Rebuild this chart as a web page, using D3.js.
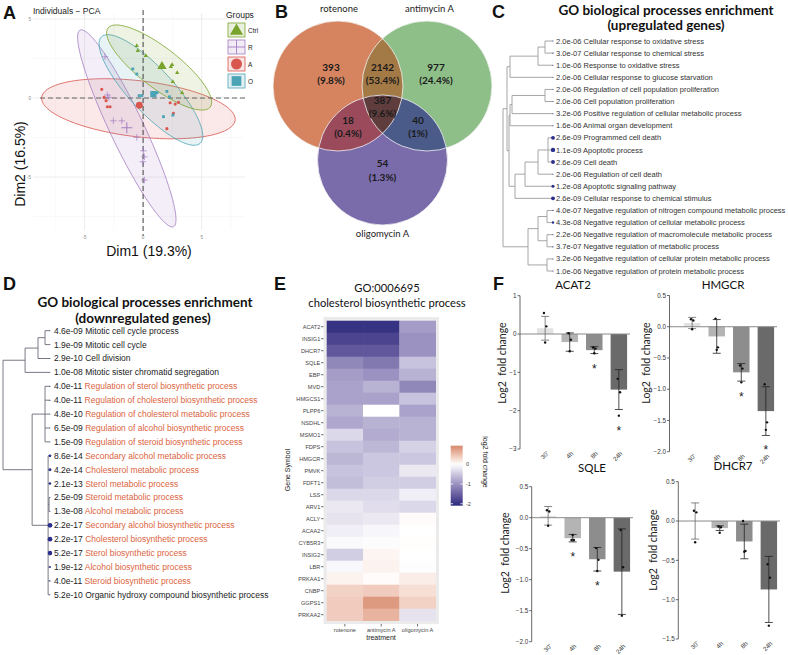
<!DOCTYPE html>
<html><head><meta charset="utf-8">
<script src="https://cdn.jsdelivr.net/npm/d3@7"></script>
<style>
body{margin:0;background:#fff}
svg{display:block}
text{font-family:"Liberation Sans",Arial,sans-serif}
.lato{font-family:Lato,"Open Sans",sans-serif}
</style>
</head><body>
<svg id="c" width="788" height="655"></svg>
<script>
// ================= DATA =================
// Panel A - PCA individuals (Dim1, Dim2)
const pcaGroups = ["Ctrl", "R", "A", "O"];
const ctrlDim1 = [-0.54, -0.45, 0.23, 2.48, 2.37, 2.91, 2.54, 3.33];
const ctrlDim2 = [3.31, 2.99, 2.68, 2.11, 1.98, 1.60, 1.03, 0.34];
const rDim1 = [-3.25, -3.05, -2.91, -2.54, -1.82, -0.54, 0.03, 0.11, -0.03, 0.11];
const rDim2 = [2.61, 0.19, 0.04, -1.44, -1.44, -2.49, -3.34, -3.72, -4.03, -5.19];
const aDim1 = [-3.53, -3.33, -3.16, -3.05, -2.82, 2.31, 3.02, 2.74, 2.59, 2.03];
const aDim2 = [0.55, 0.04, -0.17, -0.55, -0.55, -0.30, -0.27, -0.38, -0.97, -1.94];
const oDim1 = [-0.88, -0.54, -0.34, -0.11, 1.20, 2.03, 2.25, 1.74, 2.54];
const oDim2 = [1.84, 1.52, 0.15, 0.15, 0.34, 0.42, 0.08, -1.18, -1.08];
// concentration ellipses: centre, semi-axis vectors (data units)
const ellCtrl = [1.37, 1.93, 4.36, -2.50, -1.05, -1.00];
const ellR    = [-1.39, -1.92, 3.99, -6.22, -1.31, -0.46];
const ellA    = [-0.40, -0.68, 8.26, -0.72, -0.28, -1.76];
const ellO    = [0.67, 0.51, 4.21, -3.37, -1.38, -0.94];
const pcaXTicks = [-5, 0, 5];
const pcaYTicks = [5, 0, -5];

// Panel B - Venn
const vennSets = ["rotenone", "antimycin A", "oligomycin A"];
const vennCounts = [393, 2142, 977, 387, 18, 40, 54];
const vennPct = ["9.8%", "53.4%", "24.4%", "9.6%", "0.4%", "1%", "1.3%"];

// Panel C - GO upregulated
const cP = ["2.0e-06","3.0e-07","1.0e-06","2.0e-06","2.0e-06","2.0e-06","3.2e-06","1.6e-06","2.6e-09","1.1e-09","2.6e-09","2.0e-06","1.2e-08","2.6e-09","4.0e-07","4.3e-08","2.2e-06","3.7e-07","3.2e-06","1.0e-06"];
const cTerms = ["Cellular response to oxidative stress","Cellular response to chemical stress","Response to oxidative stress","Cellular response to glucose starvation","Regulation of cell population proliferation","Cell population proliferation","Positive regulation of cellular metabolic process","Animal organ development","Programmed cell death","Apoptotic process","Cell death","Regulation of cell death","Apoptotic signaling pathway","Cellular response to chemical stimulus","Negative regulation of nitrogen compound metabolic process","Negative regulation of cellular metabolic process","Negative regulation of macromolecule metabolic process","Negative regulation of metabolic process","Negative regulation of cellular protein metabolic process","Negative regulation of protein metabolic process"];
const cTree = {h:1.0, c:[
  {h:0.92, c:[
    {h:0.86, c:[{h:0.30, c:[{h:0.16, c:[0,1]}, 2]}, 3]},
    {h:0.88, c:[
      {h:0.86, c:[{h:0.82, c:[{h:0.16, c:[4,5]}, 6]}, 7]},
      {h:0.76, c:[{h:0.56, c:[{h:0.30, c:[{h:0.10, c:[8,9,10]}, 11]}, 12]}, 13]}
    ]}
  ]},
  {h:0.50, c:[{h:0.30, c:[{h:0.12, c:[14,15]}, {h:0.12, c:[16,17]}]}, {h:0.12, c:[18,19]}]}
]};

// Panel D - GO downregulated
const dP = ["4.6e-09","1.9e-09","2.9e-10","1.0e-08","4.0e-11","4.0e-11","4.8e-10","6.5e-09","1.5e-09","8.6e-14","4.2e-14","2.1e-13","2.5e-09","1.3e-08","2.2e-17","2.2e-17","5.2e-17","1.9e-12","4.0e-11","5.2e-10"];
const dTerms = ["Mitotic cell cycle process","Mitotic cell cycle","Cell division","Mitotic sister chromatid segregation","Regulation of sterol biosynthetic process","Regulation of cholesterol biosynthetic process","Regulation of cholesterol metabolic process","Regulation of alcohol biosynthetic process","Regulation of steroid biosynthetic process","Secondary alcohol metabolic process","Cholesterol metabolic process","Sterol metabolic process","Steroid metabolic process","Alcohol metabolic process","Secondary alcohol biosynthetic process","Cholesterol biosynthetic process","Sterol biosynthetic process","Alcohol biosynthetic process","Steroid biosynthetic process","Organic hydroxy compound biosynthetic process"];
const dSterol = [0,0,0,0,1,1,1,1,1,1,1,1,1,1,1,1,1,1,1,0];
const dTree = {h:1.0, c:[
  {h:0.53, c:[{h:0.255, c:[{h:0.106, c:[0,1]}, 2]}, 3]},
  {h:0.38, c:[
    {h:0.106, c:[4,5,6,7,8]},
    {h:0.04, c:[9,10,11,{h:0.02, c:[12,13]},14,15,16,17,18,19]}
  ]}
]};

// Panel E - heatmap (log2 fold change)
const hmTreatments = ["rotenone", "antimycin A", "oligomycin A"];
const hmGenes = ["ACAT2","INSIG1","DHCR7","SQLE","EBP","MVD","HMGCS1","PLPP6","NSDHL","MSMO1","FDPS","HMGCR","PMVK","FDFT1","LSS","ARV1","ACLY","ACAA2","CYB5R3","INSIG2","LBR","PRKAA1","CNBP","GGPS1","PRKAA2"];
const hmRotenone   = [-2.0,-1.8,-1.6,-1.1,-0.9,-0.85,-0.85,-0.7,-0.8,-0.35,-0.55,-0.65,-0.55,-0.6,-0.35,-0.2,-0.25,-0.15,-0.05,-0.45,-0.07,0.1,0.35,0.4,0.4];
const hmAntimycin  = [-2.0,-1.8,-1.6,-1.25,-1.0,-0.7,-0.85,0.0,-0.7,-0.75,-0.65,-0.5,-0.5,-0.45,-0.35,-0.3,-0.2,-0.08,-0.03,0.08,0.1,0.03,0.4,0.8,0.6];
const hmOligomycin = [-0.9,-1.0,-1.0,-0.55,-0.7,-1.1,-0.55,-0.85,-0.7,-0.7,-0.4,-0.5,-0.2,-0.45,-0.15,-0.35,0.03,0.0,0.01,0.0,-0.02,0.15,0.25,0.35,-0.25];
const hmLegendTicks = [0, -1, -2];

// Panel F - qPCR bars
const fTimes = ["30'", "4h", "8h", "24h"];
const acat2Mean = [0.15, -0.21, -0.42, -1.45];
const acat2SD   = [0.31, 0.24, 0.09, 0.52];
const acat2Pts  = [[0.55, 0.20, -0.22], [0.02, -0.15, -0.45], [-0.35, -0.38, -0.50], [-1.17, -1.52, -2.13]];
const acat2Sig  = [0, 0, 1, 1];
const hmgcrMean = [0.06, -0.155, -0.73, -1.35];
const hmgcrSD   = [0.09, 0.27, 0.14, 0.39];
const hmgcrPts  = [[0.12, 0.10, -0.04], [0.13, -0.33, -0.37], [-0.62, -0.67, -0.89], [-0.92, -1.53, -1.65]];
const hmgcrSig  = [0, 0, 1, 1];
const sqleMean  = [0.03, -0.33, -0.67, -0.87];
const sqleSD    = [0.15, 0.06, 0.19, 0.69];
const sqlePts   = [[0.12, 0.10, -0.13], [-0.36, -0.36, -0.28], [-0.49, -0.68, -0.86], [-0.20, -0.80, -1.58]];
const sqleSig   = [0, 1, 1, 0];
const dhcr7Mean = [0.0, -0.09, -0.26, -0.87];
const dhcr7SD   = [0.23, 0.03, 0.22, 0.42];
const dhcr7Pts  = [[0.13, 0.11, -0.27], [-0.07, -0.08, -0.15], [0.0, -0.38, -0.39], [-0.55, -0.72, -1.33]];
const dhcr7Sig  = [0, 0, 0, 0];

// ================= DRAW =================
const svg = d3.select("#c");
svg.append("rect").attr("width", 788).attr("height", 655).attr("fill", "#fff");

function panelLabel(t, x, y) {
  svg.append("text").attr("x", x).attr("y", y).text(t)
    .attr("font-size", 18).attr("font-weight", "bold").attr("fill", "#111");
}

// ---------- Panel A ----------
(function () {
  const g = svg.append("g");
  const x = d3.scaleLinear().domain([-9.4, 8.7]).range([33, 245]);
  const y = d3.scaleLinear().domain([-8.35, 5.38]).range([230, 13]);
  const col = {Ctrl: "#7aa32b", R: "#a47dc2", A: "#d9564f", O: "#4ba4b6"};
  [-7.5, -2.5, 2.5, 7.5].forEach(v => g.append("line").attr("x1", x(v)).attr("x2", x(v)).attr("y1", 13).attr("y2", 230).attr("stroke", "#f3f3f3").attr("stroke-width", 0.5));
  [2.5, -2.5, -7.5].forEach(v => g.append("line").attr("y1", y(v)).attr("y2", y(v)).attr("x1", 33).attr("x2", 245).attr("stroke", "#f3f3f3").attr("stroke-width", 0.5));
  pcaXTicks.forEach(v => g.append("line").attr("x1", x(v)).attr("x2", x(v)).attr("y1", 13).attr("y2", 230).attr("stroke", "#e6e6e6").attr("stroke-width", 0.7));
  pcaYTicks.forEach(v => g.append("line").attr("y1", y(v)).attr("y2", y(v)).attr("x1", 33).attr("x2", 245).attr("stroke", "#e6e6e6").attr("stroke-width", 0.7));
  const ells = {Ctrl: ellCtrl, R: ellR, A: ellA, O: ellO};
  ["A", "R", "O", "Ctrl"].forEach(k => {
    const e = ells[k];
    const pts = d3.range(0, 101).map(i => {
      const t = i / 100 * 2 * Math.PI;
      return [x(e[0] + Math.cos(t) * e[2] + Math.sin(t) * e[4]), y(e[1] + Math.cos(t) * e[3] + Math.sin(t) * e[5])];
    });
    g.append("path").attr("d", d3.line()(pts) + "Z").attr("fill", col[k]).attr("fill-opacity", 0.13)
      .attr("stroke", col[k]).attr("stroke-width", 0.8);
  });
  g.append("line").attr("x1", x(0)).attr("x2", x(0)).attr("y1", 10).attr("y2", 236).attr("stroke", "#444").attr("stroke-width", 1).attr("stroke-dasharray", "5,3");
  g.append("line").attr("y1", y(0)).attr("y2", y(0)).attr("x1", 40).attr("x2", 246).attr("stroke", "#666").attr("stroke-width", 1).attr("stroke-dasharray", "5,3");
  const sets = {Ctrl: [ctrlDim1, ctrlDim2], R: [rDim1, rDim2], A: [aDim1, aDim2], O: [oDim1, oDim2]};
  function mark(k, px, py, big) {
    if (k === "R") {
      const s = big ? 5.5 : 3.2;
      g.append("path").attr("d", `M${px - s},${py}H${px + s}M${px},${py - s}V${py + s}`).attr("stroke", col[k]).attr("stroke-width", big ? 1 : 0.7);
    } else {
      const type = k === "Ctrl" ? d3.symbolTriangle : k === "A" ? d3.symbolCircle : d3.symbolSquare;
      g.append("path").attr("d", d3.symbol().type(type).size(big ? 38 : 8)()).attr("transform", `translate(${px},${py})`).attr("fill", col[k]);
    }
  }
  pcaGroups.forEach(k => {
    const [d1, d2] = sets[k];
    d1.forEach((v, i) => mark(k, x(v), y(d2[i]), false));
    mark(k, x(d3.mean(d1)), y(d3.mean(d2)), true);
  });
  pcaXTicks.forEach(v => g.append("text").attr("x", x(v)).attr("y", 239).attr("text-anchor", "middle").attr("font-size", 4.5).attr("fill", "#888").text(v));
  pcaYTicks.forEach(v => g.append("text").attr("x", 31).attr("y", y(v) + 1.5).attr("text-anchor", "end").attr("font-size", 4.5).attr("fill", "#888").text(v));
  g.append("text").attr("x", 33).attr("y", 13.5).attr("font-size", 8.5).attr("fill", "#222").text("Individuals \u2212 PCA");
  g.append("text").attr("x", 149).attr("y", 255.5).attr("text-anchor", "middle").attr("font-size", 14).attr("fill", "#111").text("Dim1 (19.3%)");
  g.append("text").attr("transform", "translate(25,164) rotate(-90)").attr("text-anchor", "middle").attr("font-size", 14).attr("fill", "#111").text("Dim2 (16.5%)");
  g.append("text").attr("x", 226).attr("y", 18).attr("font-size", 8.5).attr("fill", "#222").text("Groups");
  pcaGroups.forEach((k, i) => {
    const by = 23 + i * 17, bx = 228;
    g.append("rect").attr("x", bx).attr("y", by).attr("width", 17).attr("height", 14).attr("fill", col[k]).attr("fill-opacity", 0.15).attr("stroke", col[k]).attr("stroke-width", 0.8);
    const cx = bx + 8.5, cy = by + 7;
    if (k === "R") {
      g.append("path").attr("d", `M${bx},${cy}H${bx + 17}M${cx},${by}V${by + 14}`).attr("stroke", col[k]).attr("stroke-width", 0.9);
    } else {
      const type = k === "Ctrl" ? d3.symbolTriangle : k === "A" ? d3.symbolCircle : d3.symbolSquare;
      g.append("path").attr("d", d3.symbol().type(type).size(k === "Ctrl" ? 75 : 95)()).attr("transform", `translate(${cx},${cy + (k === "Ctrl" ? 1 : 0)})`).attr("fill", col[k]);
    }
    g.append("text").attr("x", 248).attr("y", cy + 2.5).attr("font-size", 6.5).attr("fill", "#222").text(k);
  });
  panelLabel("A", 3, 19);
})();

// ---------- Panel B ----------
(function () {
  const g = svg.append("g");
  const r = 65;
  const C = [{x: 338, y: 86, c: "#d5845f"}, {x: 427, y: 86, c: "#8fbf88"}, {x: 382.5, y: 160, c: "#7a6bab"}];
  const defs = svg.append("defs");
  C.forEach((c, i) => defs.append("clipPath").attr("id", "vc" + i).append("circle").attr("cx", c.x).attr("cy", c.y).attr("r", r));
  C.forEach(c => g.append("circle").attr("cx", c.x).attr("cy", c.y).attr("r", r).attr("fill", c.c));
  const ov = [[0, 1, "#a37946"], [0, 2, "#9b4a5b"], [1, 2, "#4a5a89"]];
  ov.forEach(o => g.append("g").attr("clip-path", `url(#vc${o[0]})`).append("circle")
    .attr("cx", C[o[1]].x).attr("cy", C[o[1]].y).attr("r", r).attr("fill", o[2]));
  g.append("g").attr("clip-path", "url(#vc0)").append("g").attr("clip-path", "url(#vc1)").append("circle")
    .attr("cx", C[2].x).attr("cy", C[2].y).attr("r", r).attr("fill", "#5f3d3c");
  C.forEach(c => g.append("circle").attr("cx", c.x).attr("cy", c.y).attr("r", r).attr("fill", "none").attr("stroke", "#f4f4f4").attr("stroke-width", 0.8));
  const pos = [
    [C[0].x - 7, C[0].y - 19], [(C[0].x + C[1].x) / 2, C[0].y - 19], [C[1].x + 9, C[1].y - 19],
    [C[2].x, C[0].y + 14], [C[0].x + 10, C[0].y + 34], [C[1].x - 9, C[1].y + 34], [C[2].x, C[2].y + 3.5]
  ];
  vennCounts.forEach((v, i) => {
    g.append("text").attr("class", "lato").attr("x", pos[i][0]).attr("y", pos[i][1] + 3.5).attr("text-anchor", "middle")
      .attr("font-size", 10).attr("font-weight", "bold").attr("fill", "#1a1a1a").text(v);
    g.append("text").attr("class", "lato").attr("x", pos[i][0]).attr("y", pos[i][1] + 17).attr("text-anchor", "middle")
      .attr("font-size", 10).attr("font-weight", "bold").attr("fill", "#1a1a1a").text("(" + vennPct[i] + ")");
  });
  const lp = [[339, 12], [429.5, 12], [382.5, 237]];
  vennSets.forEach((s, i) => g.append("text").attr("class", "lato").attr("x", lp[i][0]).attr("y", lp[i][1]).attr("text-anchor", "middle")
    .attr("font-size", 9.5).attr("fill", "#222").text(s));
  panelLabel("B", 275, 18);
})();

// ---------- dendrogram helper ----------
function layoutTree(n, rowY) {
  if (typeof n === "number") return {leaf: true, i: n, y: rowY(n)};
  const kids = n.c.map(k => layoutTree(k, rowY));
  return {h: n.h, kids, y: (kids[0].y + kids[kids.length - 1].y) / 2};
}
function drawTree(g, n, xs, leafX, color) {
  if (n.leaf) return;
  const x0 = xs(n.h);
  g.append("line").attr("x1", x0).attr("x2", x0).attr("y1", n.kids[0].y).attr("y2", n.kids[n.kids.length - 1].y).attr("stroke", color).attr("stroke-width", 0.9);
  n.kids.forEach(k => {
    const x1 = k.leaf ? leafX : xs(k.h);
    g.append("line").attr("x1", x0).attr("x2", x1).attr("y1", k.y).attr("y2", k.y).attr("stroke", color).attr("stroke-width", 0.9);
    drawTree(g, k, xs, leafX, color);
  });
}

// ---------- Panel C ----------
(function () {
  const g = svg.append("g");
  const rowY = d3.scaleLinear().domain([0, 19]).range([41, 271]);
  const xs = d3.scaleLinear().domain([0, 1]).range([553, 503]);
  const rs = d3.scaleLinear().domain([6.2, 9]).range([0.5, 2.2]).clamp(true);
  drawTree(g, layoutTree(cTree, rowY), xs, 553, "#9c9c9c");
  cTerms.forEach((t, i) => {
    const lp = -Math.log10(+cP[i]);
    g.append("circle").attr("cx", 553).attr("cy", rowY(i)).attr("r", rs(lp)).attr("fill", "#2b2f8c");
    g.append("text").attr("x", 556).attr("y", rowY(i) + 2.6).attr("font-size", 7.5).attr("fill", "#333").text(cP[i] + " " + t);
  });
  g.append("text").attr("class", "lato").attr("x", 666).attr("y", 14.5).attr("text-anchor", "middle").attr("font-size", 13.5).attr("font-weight", "bold").attr("fill", "#111").text("GO biological processes enrichment");
  g.append("text").attr("class", "lato").attr("x", 666).attr("y", 30).attr("text-anchor", "middle").attr("font-size", 13.5).attr("font-weight", "bold").attr("fill", "#111").text("(upregulated genes)");
  panelLabel("C", 492, 18);
})();

// ---------- Panel D ----------
(function () {
  const g = svg.append("g");
  const rowY = d3.scaleLinear().domain([0, 19]).range([330.7, 594.8]);
  const xs = d3.scaleLinear().domain([0, 1]).range([50, 3]);
  const rs = d3.scaleLinear().domain([10, 16.7]).range([0.45, 2.4]).clamp(true);
  drawTree(g, layoutTree(dTree, rowY), xs, 50, "#6b6b78");
  dTerms.forEach((t, i) => {
    const lp = -Math.log10(+dP[i]);
    g.append("circle").attr("cx", 50).attr("cy", rowY(i)).attr("r", rs(lp)).attr("fill", "#2b2f8c");
    const tx = g.append("text").attr("x", 54).attr("y", rowY(i) + 2.9).attr("font-size", 8.5);
    tx.append("tspan").attr("fill", "#222").text(dP[i] + " ");
    tx.append("tspan").attr("fill", dSterol[i] ? "#db6440" : "#222").text(t);
  });
  g.append("text").attr("class", "lato").attr("x", 145).attr("y", 307).attr("text-anchor", "middle").attr("font-size", 13.5).attr("font-weight", "bold").attr("fill", "#111").text("GO biological processes enrichment");
  g.append("text").attr("class", "lato").attr("x", 143).attr("y", 322.5).attr("text-anchor", "middle").attr("font-size", 13.5).attr("font-weight", "bold").attr("fill", "#111").text("(downregulated genes)");
  panelLabel("D", 3, 290);
})();

// ---------- Panel E ----------
(function () {
  const g = svg.append("g");
  const hx = d3.scaleBand().domain(hmTreatments).range([326.7, 435.7]);
  const hy = d3.scaleBand().domain(hmGenes).range([320.7, 620.7]);
  const color = d3.scaleLinear().domain([-2.1, 0, 0.95]).range(["#2a2a7d", "#ffffff", "#d5886a"]).interpolate(d3.interpolateLab).clamp(true);
  g.append("rect").attr("x", 323.5).attr("y", 317).attr("width", 115.5).attr("height", 307).attr("fill", "#ebebeb");
  const cols = [hmRotenone, hmAntimycin, hmOligomycin];
  hmTreatments.forEach((t, j) => hmGenes.forEach((gn, i) => {
    g.append("rect").attr("x", hx(t)).attr("y", hy(gn)).attr("width", hx.bandwidth() + 0.3).attr("height", hy.bandwidth() + 0.3).attr("fill", color(cols[j][i]));
  }));
  hmGenes.forEach(gn => {
    const yy = hy(gn) + hy.bandwidth() / 2;
    g.append("line").attr("x1", 321).attr("x2", 323.5).attr("y1", yy).attr("y2", yy).attr("stroke", "#333").attr("stroke-width", 0.7);
    g.append("text").attr("x", 320.3).attr("y", yy + 2).attr("text-anchor", "end").attr("font-size", 5.6).attr("fill", "#444").text(gn);
  });
  hmTreatments.forEach(t => {
    const xx = hx(t) + hx.bandwidth() / 2;
    g.append("line").attr("x1", xx).attr("x2", xx).attr("y1", 624).attr("y2", 626.5).attr("stroke", "#333").attr("stroke-width", 0.7);
    g.append("text").attr("x", xx).attr("y", 632).attr("text-anchor", "middle").attr("font-size", 5.6).attr("fill", "#444").text(t);
  });
  g.append("text").attr("x", 381).attr("y", 639.5).attr("text-anchor", "middle").attr("font-size", 7).attr("fill", "#222").text("treatment");
  g.append("text").attr("transform", "translate(290,470) rotate(-90)").attr("text-anchor", "middle").attr("font-size", 7).attr("fill", "#222").text("Gene Symbol");
  const ly = d3.scaleLinear().domain([0.95, -2.1]).range([445.7, 505.7]);
  const grad = svg.append("defs").append("linearGradient").attr("id", "hmg").attr("x1", 0).attr("x2", 0).attr("y1", 0).attr("y2", 1);
  d3.range(0, 21).forEach(i => {
    const v = 0.95 - i / 20 * 3.05;
    grad.append("stop").attr("offset", i / 20).attr("stop-color", color(v));
  });
  g.append("rect").attr("x", 450.7).attr("y", ly(0.95)).attr("width", 12).attr("height", ly(-2.1) - ly(0.95)).attr("fill", "url(#hmg)");
  hmLegendTicks.forEach(v => {
    g.append("line").attr("x1", 450.7).attr("x2", 453).attr("y1", ly(v)).attr("y2", ly(v)).attr("stroke", "#fff").attr("stroke-width", 0.8);
    g.append("line").attr("x1", 460.4).attr("x2", 462.7).attr("y1", ly(v)).attr("y2", ly(v)).attr("stroke", "#fff").attr("stroke-width", 0.8);
    g.append("text").attr("x", 466).attr("y", ly(v) + 2).attr("font-size", 5.6).attr("fill", "#444").text(v);
  });
  g.append("text").attr("transform", "translate(483,462) rotate(90)").attr("text-anchor", "middle").attr("font-size", 7).attr("fill", "#222").text("log2 fold change");
  g.append("text").attr("class", "lato").attr("x", 387).attr("y", 292).attr("text-anchor", "middle").attr("font-size", 11.2).attr("fill", "#111").text("GO:0006695");
  g.append("text").attr("class", "lato").attr("x", 387).attr("y", 307).attr("text-anchor", "middle").attr("font-size", 11.2).attr("fill", "#111").text("cholesterol biosynthetic process");
  panelLabel("E", 274, 290);
})();

// ---------- Panel F ----------
function barPanel(cfg, mean, sd, pts, sig) {
  const g = svg.append("g");
  const y = d3.scaleLinear().domain(cfg.dom).range(cfg.yr);
  const x = d3.scaleBand().domain(fTimes).range(cfg.xr).paddingInner(0.33).paddingOuter(0.2);
  const fills = ["#e2e2e2", "#b4b4b4", "#8d8d8d", "#6a6a6a"];
  fTimes.forEach((t, i) => {
    const m = mean[i];
    g.append("rect").attr("x", x(t)).attr("width", x.bandwidth()).attr("y", y(Math.max(0, m))).attr("height", Math.abs(y(m) - y(0))).attr("fill", fills[i]);
  });
  g.append("line").attr("x1", cfg.ax).attr("x2", cfg.xr[1] - 2).attr("y1", y(0)).attr("y2", y(0)).attr("stroke", "#8a8a8a").attr("stroke-width", 1);
  fTimes.forEach((t, i) => {
    const cx = x(t) + x.bandwidth() / 2, m = mean[i], s = sd[i];
    const ec = i === 0 ? "#666" : "#222";
    g.append("line").attr("x1", cx).attr("x2", cx).attr("y1", y(m - s)).attr("y2", y(m + s)).attr("stroke", ec).attr("stroke-width", 0.8);
    [m - s, m + s].forEach(v => g.append("line").attr("x1", cx - 4).attr("x2", cx + 4).attr("y1", y(v)).attr("y2", y(v)).attr("stroke", ec).attr("stroke-width", 0.8));
    pts[i].forEach((v, k) => g.append("circle").attr("cx", cx + [-1.2, 1.2, 0][k]).attr("cy", y(v)).attr("r", 1.2).attr("fill", "#111"));
    if (sig[i]) {
      const lo = Math.min(m - s, d3.min(pts[i]));
      g.append("text").attr("x", cx).attr("y", y(lo) + 19).attr("text-anchor", "middle").attr("font-size", 12).attr("fill", "#222").text("*");
    }
    g.append("text").attr("transform", `translate(${cx + 4},${cfg.yr[0] + 5}) rotate(-45)`).attr("text-anchor", "end")
      .attr("font-size", 6.3).attr("fill", "#333").text(t);
  });
  g.append("line").attr("x1", cfg.ax).attr("x2", cfg.ax).attr("y1", cfg.yr[1]).attr("y2", cfg.yr[0]).attr("stroke", "#444").attr("stroke-width", 0.8);
  cfg.ticks.forEach(v => {
    g.append("line").attr("x1", cfg.ax - 2.5).attr("x2", cfg.ax).attr("y1", y(v)).attr("y2", y(v)).attr("stroke", "#444").attr("stroke-width", 0.8);
    g.append("text").attr("x", cfg.ax - 3.5).attr("y", y(v) + 2.2).attr("text-anchor", "end").attr("font-size", 6.3).attr("fill", "#333").text(cfg.fmt(v));
  });
  g.append("text").attr("class", "lato").attr("transform", `translate(${cfg.lx},${cfg.ly}) rotate(-90)`).attr("text-anchor", "middle")
    .attr("font-size", 10.5).attr("fill", "#222").attr("xml:space", "preserve").text("Log2  fold change");
  g.append("text").attr("class", "lato").attr("x", cfg.tx).attr("y", cfg.ty).attr("text-anchor", "middle").attr("font-size", 11.5).attr("fill", "#111").text(cfg.name);
}
const f1 = d3.format(".1f");
barPanel({name: "ACAT2", dom: [-3, 1], yr: [449, 295.7], xr: [532, 632], ax: 520, ticks: [1, 0, -1, -2, -3], fmt: d3.format("d"), lx: 506, ly: 363, tx: 573, ty: 289},
  acat2Mean, acat2SD, acat2Pts, acat2Sig);
barPanel({name: "HMGCR", dom: [-2, 0.5], yr: [451.7, 295.5], xr: [679, 779], ax: 669.5, ticks: [0.5, 0, -0.5, -1, -1.5, -2], fmt: f1, lx: 650, ly: 363, tx: 723, ty: 289},
  hmgcrMean, hmgcrSD, hmgcrPts, hmgcrSig);
barPanel({name: "SQLE", dom: [-2, 0.5], yr: [641.7, 486.7], xr: [535, 635], ax: 531.7, ticks: [0.5, 0, -0.5, -1, -1.5, -2], fmt: f1, lx: 509, ly: 553, tx: 592, ty: 472},
  sqleMean, sqleSD, sqlePts, sqleSig);
barPanel({name: "DHCR7", dom: [-1.5, 0.5], yr: [639, 481.7], xr: [682, 782], ax: 678.3, ticks: [0.5, 0, -0.5, -1, -1.5], fmt: f1, lx: 657, ly: 550, tx: 733, ty: 470},
  dhcr7Mean, dhcr7SD, dhcr7Pts, dhcr7Sig);
panelLabel("F", 493, 290);
</script>
</body></html>
